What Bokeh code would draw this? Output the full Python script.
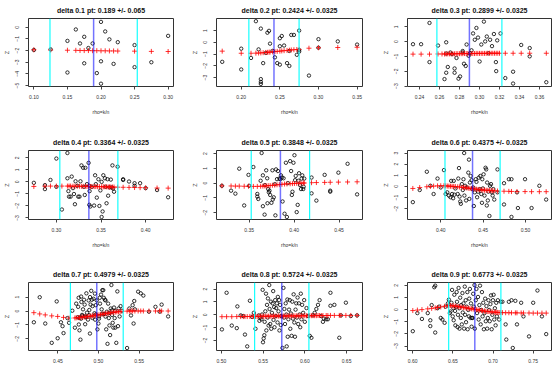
from bokeh.plotting import figure
from bokeh.models import Span, FixedTicker, NumeralTickFormatter, Range1d
from bokeh.layouts import column, row
from bokeh.embed import file_html
from bokeh.resources import INLINE

# ---------------- data ----------------
titles = ["delta 0.1 pt: 0.189 +/- 0.065", "delta 0.2 pt: 0.2424 +/- 0.0325",
          "delta 0.3 pt: 0.2899 +/- 0.0325", "delta 0.4 pt: 0.3364 +/- 0.0325",
          "delta 0.5 pt: 0.3848 +/- 0.0325", "delta 0.6 pt: 0.4375 +/- 0.0325",
          "delta 0.7 pt: 0.4979 +/- 0.0325", "delta 0.8 pt: 0.5724 +/- 0.0325",
          "delta 0.9 pt: 0.6773 +/- 0.0325"]
pts = [0.189, 0.2424, 0.2899, 0.3364, 0.3848, 0.4375, 0.4979, 0.5724, 0.6773]
halfs = [0.065, 0.0325, 0.0325, 0.0325, 0.0325, 0.0325, 0.0325, 0.0325, 0.0325]

x_ticks = [[0.10, 0.15, 0.20, 0.25, 0.30], [0.20, 0.25, 0.30, 0.35],
           [0.24, 0.26, 0.28, 0.30, 0.32, 0.34, 0.36], [0.30, 0.35, 0.40],
           [0.35, 0.40, 0.45], [0.40, 0.45, 0.50], [0.45, 0.50, 0.55],
           [0.50, 0.55, 0.60, 0.65], [0.60, 0.65, 0.70, 0.75]]
z_ticks = [[0, -1, -2, -3, -4, -5], [1, 0, -1, -2, -3], [1, 0, -1, -2, -3],
           [2, 1, 0, -1, -2, -3], [2, 1, 0, -1, -2], [3, 2, 1, 0, -1, -2],
           [1, 0, -1, -2], [2, 1, 0, -1, -2], [2, 1, 0, -1, -2, -3]]
x_lims = [(0.092, 0.308), (0.168, 0.357), (0.228, 0.372), (0.2688, 0.4312),
          (0.3137, 0.4761), (0.3608, 0.5306), (0.4139, 0.5923), (0.4942, 0.6691),
          (0.5935, 0.7728)]
z_lims = [(-5.08, 0.75), (-3.76, 2.03), (-3.03, 1.57), (-3.13, 2.61), (-2.46, 2.21),
          (-2.97, 3.23), (-2.84, 2.05), (-2.78, 2.51), (-3.37, 2.23)]

# panel 1
x1 = [0.10, 0.125, 0.15, 0.15, 0.1625, 0.16875, 0.175, 0.175, 0.18125, 0.1875,
      0.19375, 0.2, 0.2, 0.2, 0.20625, 0.2125, 0.21875, 0.225, 0.25, 0.25,
      0.275, 0.30]
z1 = [-1.95, -1.9, -1.17, -3.88, -0.19, -1.39, -0.82, -3.09, -1.78, -1.39,
      -3.93, 0.46, -2.92, -4.84, -0.36, -1.04, -3.14, -1.28, -1.53, -3.42,
      -3.0, -0.74]
cx1 = [0.10, 0.125, 0.15, 0.1625, 0.16875, 0.175, 0.18125, 0.1875, 0.19375, 0.2,
       0.20625, 0.2125, 0.21875, 0.225, 0.25, 0.275, 0.30]
cz1 = [-1.93, -1.95, -1.97, -1.98, -1.99, -2.0, -2.0, -2.01, -2.01, -2.02,
       -2.02, -2.03, -2.03, -2.04, -2.05, -2.07, -2.08]

# panel 2
x2 = [0.1754, 0.20, 0.20, 0.2127, 0.219, 0.2225, 0.2254, 0.2254, 0.2254, 0.2254,
      0.2284, 0.2318, 0.2339, 0.236, 0.2373, 0.2407, 0.2436, 0.2466, 0.25, 0.25,
      0.25, 0.2525, 0.2555, 0.2593, 0.2623, 0.2623, 0.2648, 0.2682, 0.272, 0.275,
      0.275, 0.275, 0.2877, 0.30, 0.30, 0.325, 0.35]
z2 = [-1.66, -0.54, -2.31, -1.33, 1.80, -0.60, 1.17, -3.13, -3.37, -3.54,
      -1.77, -0.90, 0.82, 0.98, -0.11, -0.73, -1.28, -1.77, -0.33, -1.90,
      0.35, 0.54, -0.27, -1.77, -2.01, -0.73, 0.63, 0.63, -1.06, 1.00,
      -0.65, -0.79, -2.83, 0.27, -0.46, 0.08, -0.19]
cx2 = [0.1754, 0.20, 0.2127, 0.219, 0.2225, 0.2254, 0.2284, 0.2318, 0.2339, 0.236,
       0.2373, 0.2407, 0.2436, 0.2466, 0.25, 0.2525, 0.2555, 0.2593, 0.2623, 0.2648,
       0.2682, 0.272, 0.275, 0.2877, 0.30, 0.325, 0.35]
cz2 = [-0.75, -0.93, -0.93, -0.92, -0.91, -0.9, -0.88, -0.86, -0.85, -0.84,
       -0.83, -0.81, -0.79, -0.77, -0.75, -0.73, -0.71, -0.69, -0.67, -0.65,
       -0.63, -0.61, -0.6, -0.5, -0.46, -0.44, -0.42]

# panel 3
x3 = [0.2335, 0.2416, 0.250, 0.250, 0.2585, 0.2667, 0.2667, 0.2667, 0.265, 0.2683,
      0.2709, 0.2725, 0.2751, 0.2751, 0.277, 0.279, 0.2806, 0.2832, 0.2832, 0.2845,
      0.2862, 0.2871, 0.2891, 0.2904, 0.292, 0.2936, 0.2953, 0.2969, 0.2985, 0.3001,
      0.3018, 0.3044, 0.3057, 0.3073, 0.309, 0.3106, 0.3125, 0.3144, 0.3164, 0.3167,
      0.3177, 0.321, 0.3258, 0.3336, 0.3336, 0.3417, 0.3502, 0.3502, 0.3668]
z3 = [-0.17, -0.17, 1.27, -1.38, -0.26, -0.04, -0.80, -2.10, -2.53, -1.71,
      -0.73, -0.84, -1.81, -2.10, -1.10, -2.50, -2.35, -0.63, -0.73, -1.49,
      -1.64, -0.19, -0.95, -0.78, -0.58, 0.56, 0.13, 0.93, 0.28, -1.34,
      -0.19, 1.36, 0.02, 0.35, -0.78, 0.13, -0.30, 0.52, -1.38, -1.99,
      0.09, 0.56, -2.46, -2.03, -2.83, -0.22, -0.43, -0.99, -2.74]
cx3 = [0.2335, 0.2416, 0.250, 0.2585, 0.2625, 0.265, 0.2667, 0.2683, 0.270, 0.2717,
       0.2733, 0.275, 0.2767, 0.2783, 0.280, 0.2817, 0.2833, 0.285, 0.2867, 0.2883,
       0.290, 0.2917, 0.2933, 0.295, 0.2967, 0.2983, 0.300, 0.3017, 0.3033, 0.305,
       0.3067, 0.3083, 0.310, 0.3117, 0.3133, 0.315, 0.3167, 0.3183, 0.320, 0.3258,
       0.3336, 0.3417, 0.3502, 0.3668]
cz3 = [-0.84, -0.84, -0.84, -0.83, -0.83, -0.83, -0.83, -0.82, -0.82, -0.82,
       -0.82, -0.82, -0.81, -0.81, -0.81, -0.81, -0.81, -0.80, -0.80, -0.80,
       -0.80, -0.80, -0.80, -0.80, -0.79, -0.79, -0.79, -0.79, -0.79, -0.79,
       -0.79, -0.78, -0.78, -0.78, -0.78, -0.78, -0.78, -0.78, -0.78, -0.78,
       -0.78, -0.78, -0.78, -0.78]

# panel 4
x4 = [0.2748, 0.2872, 0.2872, 0.2934, 0.30, 0.30, 0.3062, 0.3124, 0.3124, 0.3135,
      0.3142, 0.316, 0.3172, 0.3186, 0.3197, 0.3208, 0.3215, 0.3234, 0.3245, 0.3259,
      0.327, 0.3281, 0.33, 0.3307, 0.3318, 0.3325, 0.3343, 0.3361, 0.3369, 0.3369,
      0.338, 0.3372, 0.3398, 0.3423, 0.3434, 0.3442, 0.3453, 0.3471, 0.3482, 0.3493,
      0.3507, 0.3518, 0.3507, 0.3526, 0.3544, 0.3551, 0.3562, 0.3573, 0.358, 0.3595,
      0.361, 0.3621, 0.3628, 0.3635, 0.3646, 0.3686, 0.3748, 0.3748, 0.3814, 0.3876,
      0.3876, 0.3938, 0.40, 0.4128, 0.4252]
z4 = [-0.08, -0.27, -0.6, 0.16, 1.94, -0.41, -2.30, 2.40, 0.30, -0.77,
      -1.23, -1.23, 0.44, -0.52, -1.01, -1.86, 0.05, -0.33, -1.23, -1.23,
      0.05, 1.37, 1.17, -0.41, -1.09, 1.17, -0.19, 1.58, -0.33, -1.91,
      -2.05, -0.77, -0.41, -1.97, 0.55, -0.19, -1.31, 0.22, -2.0, -0.71,
      0.0, -2.46, -2.92, 0.55, 0.30, -0.41, -1.78, 0.22, -1.15, -0.46,
      0.19, -0.46, 1.37, -0.55, -0.82, 1.26, 0.22, 0.16, 0.03, -0.11,
      -0.33, -0.11, -0.52, -0.68, -1.28]
cx4 = [0.2748, 0.2872, 0.2934, 0.30, 0.3062, 0.3124, 0.3142, 0.316, 0.3186, 0.3208,
       0.3234, 0.3259, 0.328, 0.33, 0.3325, 0.3343, 0.3361, 0.338, 0.3398, 0.3423,
       0.3442, 0.3462, 0.3482, 0.3507, 0.3526, 0.3544, 0.3562, 0.358, 0.3595, 0.361,
       0.3628, 0.3646, 0.3686, 0.3748, 0.3814, 0.3876, 0.3938, 0.40, 0.4128, 0.4252]
cz4 = [-0.38, -0.36, -0.35, -0.35, -0.35, -0.35, -0.35, -0.35, -0.36, -0.36,
       -0.36, -0.36, -0.37, -0.37, -0.37, -0.38, -0.38, -0.38, -0.39, -0.39,
       -0.39, -0.4, -0.4, -0.4, -0.41, -0.41, -0.41, -0.42, -0.42, -0.42,
       -0.43, -0.43, -0.44, -0.45, -0.46, -0.47, -0.48, -0.49, -0.51, -0.52]

# panel 5
x5 = [0.3197, 0.3299, 0.3347, 0.339, 0.3445, 0.3493, 0.35, 0.3547, 0.3591, 0.3591,
      0.3602, 0.3628, 0.3639, 0.3653, 0.3653, 0.3672, 0.3675, 0.369, 0.3701, 0.3704,
      0.3712, 0.3719, 0.3726, 0.3734, 0.3748, 0.3759, 0.3763, 0.3774, 0.3785, 0.3792,
      0.3799, 0.381, 0.3821, 0.3836, 0.3847, 0.3854, 0.3865, 0.3872, 0.3883, 0.3894,
      0.3909, 0.392, 0.3931, 0.3956, 0.3967, 0.3975, 0.3982, 0.3993, 0.4004, 0.4011,
      0.4018, 0.4029, 0.404, 0.4048, 0.4055, 0.4066, 0.4077, 0.4084, 0.4091, 0.4102,
      0.4106, 0.4113, 0.4194, 0.4194, 0.4248, 0.434, 0.4402, 0.4402, 0.4493, 0.4595,
      0.4701]
z5 = [-0.18, -0.51, -0.71, 0.98, -1.51, 0.56, -0.18, 1.09, -0.73, -0.91,
      -1.07, 0.16, 2.04, 0.53, -1.56, -2.13, -0.13, 0.87, 0.33, -1.36,
      -0.4, -0.62, -0.51, -0.8, -1.33, 0.87, -1.11, -0.96, -0.07, -2.18,
      0.93, 0.27, 0.82, 0.31, 0.27, 0.53, 0.38, -1.24, 0.33, -2.07,
      1.38, -2.29, 0.0, 1.49, 0.82, -0.8, -0.58, 1.38, 1.89, 0.2,
      0.49, -1.96, -1.47, 0.16, 0.67, -0.13, -0.4, 0.31, 0.53, -0.4,
      -0.24, 0.31, 0.38, -0.69, -1.18, 0.56, -0.51, -0.58, 0.71, 1.31,
      -0.76]
cx5 = [0.3197, 0.3299, 0.3347, 0.339, 0.3445, 0.3493, 0.3547, 0.3591, 0.3628, 0.3653,
       0.3675, 0.369, 0.3712, 0.3734, 0.3759, 0.3785, 0.381, 0.3836, 0.3865, 0.3894,
       0.392, 0.3956, 0.3982, 0.4004, 0.4029, 0.4055, 0.4077, 0.4102, 0.4113, 0.4194,
       0.4248, 0.434, 0.4402, 0.4493, 0.4595, 0.4701]
cz5 = [-0.18, -0.19, -0.2, -0.2, -0.21, -0.21, -0.22, -0.22, -0.21, -0.2,
       -0.19, -0.18, -0.17, -0.16, -0.14, -0.13, -0.11, -0.1, -0.08, -0.06,
       -0.05, -0.04, -0.03, -0.02, -0.01, 0.0, 0.0, 0.01, 0.01, 0.03,
       0.04, 0.05, 0.06, 0.07, 0.08, 0.09]

# panel 6
x6 = [0.3671, 0.3752, 0.3836, 0.3878, 0.3916, 0.3962, 0.40, 0.4038, 0.4058, 0.4077,
      0.4096, 0.4115, 0.4123, 0.4134, 0.4146, 0.4153, 0.4161, 0.4172, 0.42, 0.4207,
      0.4215, 0.4222, 0.423, 0.4237, 0.4249, 0.426, 0.4268, 0.4276, 0.4279, 0.4287,
      0.4299, 0.4306, 0.4325, 0.4333, 0.4337, 0.4344, 0.4352, 0.4364, 0.4371, 0.4383,
      0.439, 0.4402, 0.4413, 0.4421, 0.4429, 0.444, 0.4448, 0.4459, 0.4467, 0.4478,
      0.4486, 0.449, 0.4497, 0.4505, 0.4516, 0.4528, 0.4536, 0.4543, 0.4547, 0.4555,
      0.4562, 0.4574, 0.4581, 0.4593, 0.4604, 0.4612, 0.462, 0.4631, 0.4669, 0.4669,
      0.4746, 0.4746, 0.4803, 0.4834, 0.4834, 0.4899, 0.491, 0.4994, 0.5071, 0.5163,
      0.5243]
z6 = [-1.41, -0.32, 1.32, 0.06, -0.68, 0.71, -0.09, 1.47, -0.68, -0.53,
      -0.82, -0.97, 0.5, -0.68, -1.06, 0.5, -0.74, -0.18, -0.68, 0.71,
      1.65, -0.91, -1.35, -1.56, 0.21, -0.32, 0.65, 3.0, -0.82, 0.06,
      -1.26, -0.09, 1.24, 2.41, -1.12, 0.35, 0.94, 0.56, -0.24, -0.09,
      -1.76, -0.53, 0.65, 0.41, -0.97, -0.47, 0.79, -0.24, 0.94, -0.68,
      -1.47, 0.65, -0.18, 1.09, -0.82, 1.68, 1.53, -1.71, 0.35, -1.26,
      -0.47, -2.65, 0.06, 0.21, -0.53, -0.82, -0.24, -1.18, 1.53, -0.53,
      -1.62, 0.29, 0.65, 0.65, -2.74, -0.53, -1.94, 0.65, -1.94, 0.06,
      -1.18]
cx6 = [0.3671, 0.3752, 0.3836, 0.3878, 0.3916, 0.3962, 0.40, 0.4038, 0.4058, 0.4077,
       0.4096, 0.4115, 0.4134, 0.4153, 0.4172, 0.42, 0.4222, 0.4249, 0.4268, 0.4287,
       0.4306, 0.4325, 0.4344, 0.4364, 0.4383, 0.4402, 0.4421, 0.444, 0.4459, 0.4478,
       0.4497, 0.4516, 0.4536, 0.4555, 0.4574, 0.4593, 0.4612, 0.4631, 0.4669, 0.4746,
       0.4803, 0.4834, 0.4899, 0.4994, 0.5071, 0.5163, 0.5243]
cz6 = [-0.18, -0.1, -0.03, 0.0, 0.03, 0.05, 0.06, 0.06, 0.05, 0.04,
       0.03, 0.02, 0.01, 0.0, -0.01, -0.03, -0.05, -0.07, -0.09, -0.11,
       -0.13, -0.15, -0.17, -0.19, -0.21, -0.23, -0.25, -0.27, -0.29, -0.31,
       -0.32, -0.33, -0.34, -0.35, -0.36, -0.37, -0.38, -0.39, -0.41, -0.43,
       -0.44, -0.45, -0.46, -0.46, -0.47, -0.47, -0.47]

# panel 7
x7 = [0.4205, 0.4277, 0.4345, 0.4425, 0.4486, 0.4498, 0.4538, 0.4558, 0.457, 0.4618,
      0.4638, 0.4678, 0.471, 0.4726, 0.475, 0.4758, 0.4766, 0.4778, 0.4786, 0.479,
      0.4798, 0.481, 0.4822, 0.483, 0.4838, 0.4851, 0.4859, 0.4871, 0.4879, 0.4887,
      0.4895, 0.4903, 0.4911, 0.4919, 0.4927, 0.4939, 0.4951, 0.4959, 0.4967, 0.4979,
      0.4987, 0.4999, 0.5007, 0.5019, 0.5031, 0.5039, 0.5047, 0.5059, 0.5067, 0.5079,
      0.5087, 0.5095, 0.5103, 0.5111, 0.5119, 0.5127, 0.5135, 0.5143, 0.5151, 0.5159,
      0.5167, 0.5175, 0.5183, 0.5191, 0.5199, 0.5207, 0.5219, 0.5232, 0.524, 0.5248,
      0.526, 0.5272, 0.5288, 0.5352, 0.538, 0.54, 0.542, 0.5432, 0.544, 0.5448,
      0.5488, 0.552, 0.5552, 0.5621, 0.5701, 0.5753, 0.5777, 0.5857,
      0.4746, 0.4766, 0.4786, 0.4806, 0.4846, 0.4886, 0.4926, 0.4966, 0.5006, 0.5046,
      0.5086, 0.5126, 0.5166, 0.5206, 0.4756, 0.4896, 0.5016, 0.4956, 0.5066, 0.4836]
z7 = [-0.81, 0.99, -0.9, -2.29, 0.69, -1.96, -0.81, -1.09, -1.59, -0.51,
      -0.85, 0.02, -1.2, 0.53, 0.3, -0.97, -1.39, -2.06, 1.04, 0.65,
      -0.28, 0.12, 0.81, 0.46, -0.39, 1.27, -0.12, -0.62, 0.76, 0.07,
      -1.62, 0.46, 1.45, 0.81, 0.35, 0.88, -0.16, -0.62, 0.42, 0.76,
      -1.32, -0.9, -0.39, 0.53, 1.18, 0.12, 1.5, 1.5, -0.21, 0.81,
      0.76, -1.32, -0.05, -2.36, 0.53, -0.51, -1.04, -1.73, 0.18, 1.87,
      -0.28, -0.85, -1.2, 0.25, -0.51, -1.2, -2.29, 1.41, -1.09, 0.18,
      -0.39, 0.35, 0.02, -2.66, 0.18, -0.32, 0.42, -0.9, 0.72, 0.12,
      1.39, 1.27, 1.11, -0.05, 0.3, -0.05, 0.46, -0.39,
      -0.45, -0.5, -0.55, -0.35, -0.45, -0.3, -0.5, -0.25, -0.55, -0.2,
      -0.4, -0.15, 0.05, 0.0, 0.95, 1.0, 0.95, 1.25, 0.95, -0.95]
cx7 = [0.4205, 0.4277, 0.4345, 0.4425, 0.4498, 0.457, 0.4638, 0.471, 0.4726, 0.475,
       0.4766, 0.4786, 0.4806, 0.4826, 0.4846, 0.4866, 0.4886, 0.4906, 0.4926, 0.4946,
       0.4966, 0.4986, 0.5006, 0.5026, 0.5046, 0.5066, 0.5086, 0.5106, 0.5126, 0.5146,
       0.5166, 0.5186, 0.5206, 0.5226, 0.5246, 0.5266, 0.5288, 0.5352, 0.538, 0.54,
       0.542, 0.5448, 0.5488, 0.552, 0.5552, 0.5621, 0.5701, 0.5753, 0.5777, 0.5857]
cz7 = [-0.12, -0.21, -0.28, -0.35, -0.39, -0.46, -0.51, -0.5, -0.49, -0.48,
       -0.47, -0.46, -0.44, -0.43, -0.41, -0.4, -0.38, -0.37, -0.35, -0.33,
       -0.31, -0.29, -0.27, -0.25, -0.23, -0.21, -0.19, -0.17, -0.15, -0.13,
       -0.11, -0.09, -0.08, -0.06, -0.05, -0.04, -0.03, -0.01, 0.0, 0.0,
       0.0, 0.0, 0.0, 0.0, 0.0, 0.0, 0.0, 0.0, 0.0, 0.0]

# panel 8
x8 = [0.5007, 0.5063, 0.5125, 0.5185, 0.5192, 0.5232, 0.5263, 0.5283, 0.531, 0.5342,
      0.5369, 0.5389, 0.5409, 0.5448, 0.5456, 0.5468, 0.548, 0.5488, 0.5495, 0.5499,
      0.5507, 0.5515, 0.5519, 0.5527, 0.5535, 0.5539, 0.5547, 0.5555, 0.5558, 0.5566,
      0.5574, 0.5578, 0.5586, 0.5594, 0.5598, 0.5606, 0.5614, 0.5621, 0.5625, 0.5633,
      0.5637, 0.5645, 0.5653, 0.5657, 0.5665, 0.5673, 0.5677, 0.5685, 0.5692, 0.5696,
      0.5704, 0.5712, 0.5716, 0.5732, 0.5744, 0.5752, 0.5755, 0.5763, 0.5771, 0.5779,
      0.5783, 0.5791, 0.5795, 0.5803, 0.5811, 0.5819, 0.5826, 0.5834, 0.5842, 0.585,
      0.5858, 0.5866, 0.5874, 0.5882, 0.5889, 0.5897, 0.5905, 0.5913, 0.5921, 0.5929,
      0.5937, 0.5945, 0.5952, 0.596, 0.5968, 0.598, 0.5992, 0.60, 0.602, 0.6039,
      0.6059, 0.6079, 0.6098, 0.6118, 0.6138, 0.6158, 0.6177, 0.6197, 0.6217, 0.6228,
      0.6256, 0.6276, 0.6307, 0.6307, 0.6354, 0.6413, 0.6433, 0.6492, 0.6551, 0.6626]
z8 = [-1.14, 1.71, -0.84, -1.04, 0.65, -0.05, -0.1, -1.54, -2.46, 1.09,
      -0.17, 0.15, -1.09, -0.05, -0.47, -0.22, -0.35, 0.02, 1.94, -2.14,
      -1.84, -1.59, -0.55, 0.27, 1.64, -1.22, 0.77, -0.22, 1.27, -0.84,
      2.31, 0.45, -0.72, 1.02, -1.09, 0.15, 0.89, 1.84, -0.4, 0.6,
      -0.97, 1.14, -0.1, 0.52, 0.89, -0.6, 1.39, 0.27, 1.14, -1.22,
      0.77, -0.8, -0.1, -2.58, 2.09, -0.22, 0.45, -0.72, 0.89, 0.02,
      -2.46, 1.19, -1.71, -0.35, 0.4, 1.14, -1.09, 0.1, -1.64, 1.02,
      -0.3, 1.59, -0.6, -1.71, 0.4, 0.89, -0.22, 1.34, -0.72, 0.89,
      0.02, -0.97, 1.64, -0.35, 0.77, 0.15, 1.14, -0.55, 0.52, -0.1,
      -1.64, -1.79, -0.05, 0.15, 0.45, 0.77, 1.14, -0.1, -0.55, -0.3,
      -0.35, -0.35, 1.71, 0.7, 0.77, -1.79, -0.05, 0.94, -0.1, -0.05]
cx8 = [0.5007, 0.5063, 0.5125, 0.5185, 0.5232, 0.5263, 0.5283, 0.531, 0.5342, 0.5369,
       0.5389, 0.5409, 0.5429, 0.5448, 0.5468, 0.5488, 0.5507, 0.5527, 0.5547, 0.5566,
       0.5586, 0.5606, 0.5625, 0.5645, 0.5665, 0.5685, 0.5704, 0.5724, 0.5744, 0.5763,
       0.5783, 0.5803, 0.5822, 0.5842, 0.5862, 0.5882, 0.5901, 0.5921, 0.5941, 0.596,
       0.598, 0.60, 0.602, 0.6039, 0.6059, 0.6079, 0.6098, 0.6118, 0.6138, 0.6158,
       0.6177, 0.6197, 0.6217, 0.6256, 0.6276, 0.6307, 0.6354, 0.6413, 0.6433, 0.6492,
       0.6551, 0.6626]
cz8 = [-0.15, -0.15, -0.15, -0.14, -0.14, -0.14, -0.14, -0.14, -0.13, -0.13,
       -0.13, -0.13, -0.13, -0.12, -0.12, -0.12, -0.12, -0.12, -0.11, -0.11,
       -0.11, -0.11, -0.11, -0.1, -0.1, -0.1, -0.1, -0.1, -0.1, -0.1,
       -0.1, -0.09, -0.09, -0.09, -0.09, -0.09, -0.09, -0.08, -0.08, -0.08,
       -0.08, -0.08, -0.08, -0.07, -0.07, -0.07, -0.07, -0.07, -0.07, -0.06,
       -0.06, -0.06, -0.06, -0.06, -0.06, -0.05, -0.05, -0.05, -0.05, -0.05,
       -0.05, -0.05]

# panel 9
x9 = [0.6001, 0.6058, 0.6115, 0.6187, 0.6219, 0.6219, 0.6236, 0.6268, 0.628, 0.628,
      0.6308, 0.6329, 0.6349, 0.6369, 0.6397, 0.6409, 0.6438, 0.645, 0.6462, 0.647,
      0.6482, 0.649, 0.6498, 0.6506, 0.651, 0.6518, 0.6527, 0.6531, 0.6539, 0.6547,
      0.6551, 0.6559, 0.6563, 0.6571, 0.6579, 0.6583, 0.6591, 0.6599, 0.6603, 0.6611,
      0.6619, 0.6623, 0.6632, 0.664, 0.6648, 0.6652, 0.666, 0.6664, 0.6672, 0.668,
      0.6684, 0.6692, 0.67, 0.6704, 0.6712, 0.672, 0.6725, 0.6733, 0.6737, 0.6745,
      0.6753, 0.6761, 0.6769, 0.6773, 0.6785, 0.6793, 0.6801, 0.6813, 0.6821, 0.683,
      0.6838, 0.6846, 0.6854, 0.6862, 0.687, 0.6878, 0.6886, 0.6894, 0.6902, 0.691,
      0.6918, 0.6927, 0.6935, 0.6943, 0.6951, 0.6959, 0.6967, 0.6975, 0.6983, 0.6991,
      0.6999, 0.7007, 0.7015, 0.7023, 0.7032, 0.704, 0.7048, 0.706, 0.7076, 0.7096,
      0.7117, 0.7157, 0.7165, 0.7197, 0.723, 0.7246, 0.7278, 0.7298, 0.735, 0.7379,
      0.7448, 0.75, 0.7553, 0.7609, 0.7662]
z9 = [-1.78, -0.29, -0.77, -0.29, -0.88, -1.36, 0.37, 1.84, 1.97, -1.89,
      0.11, 0.24, -0.69, -0.82, -1.09, 0.24, 0.51, 0.82, -0.29, -0.16,
      0.56, 1.62, -0.56, 0.11, -0.88, 1.22, -0.11, -1.3, 0.24, 1.44,
      0.64, -1.44, -0.43, 1.78, 0.11, -1.57, 0.98, -0.69, 0.37, -1.22,
      1.36, -0.24, 0.51, -1.57, 1.89, -0.43, 0.77, -1.04, 0.24, 1.44,
      -1.62, -0.03, -0.56, 0.9, 1.7, -0.69, 0.51, -1.41, -0.69, -0.69,
      1.3, 0.24, 2.02, -1.57, 0.77, 1.7, -0.29, 1.04, -0.82, 0.37,
      1.97, -1.22, -0.03, 1.44, -0.56, 0.56, -1.62, -0.29, 0.9, -0.96,
      0.29, -1.57, -0.69, 0.77, -0.03, -0.96, 0.45, 1.17, -1.62, -0.43,
      0.77, 1.22, -0.82, 0.11, -1.3, 0.56, -0.56, 0.77, -0.82, 0.64,
      0.64, -1.22, -2.47, 0.64, 0.77, -3.16, 0.72, -1.22, 0.56, -0.56,
      -2.21, 0.56, 1.57, -0.56, -2.02]
cx9 = [0.6001, 0.6058, 0.6115, 0.6187, 0.6236, 0.628, 0.6308, 0.6349, 0.6397, 0.6438,
       0.645, 0.647, 0.649, 0.651, 0.6531, 0.6551, 0.6571, 0.6591, 0.6611, 0.6632,
       0.6652, 0.6672, 0.6692, 0.6712, 0.6733, 0.6753, 0.6773, 0.6793, 0.6813, 0.683,
       0.6854, 0.687, 0.6894, 0.691, 0.6935, 0.6951, 0.6975, 0.6991, 0.7015, 0.7032,
       0.7048, 0.706, 0.7076, 0.7096, 0.7117, 0.7157, 0.7197, 0.723, 0.7278, 0.7298,
       0.735, 0.7379, 0.7448, 0.75, 0.7553, 0.7609, 0.7662]
cz9 = [-0.08, -0.04, 0.0, 0.06, 0.1, 0.14, 0.17, 0.22, 0.27, 0.32,
       0.34, 0.33, 0.31, 0.3, 0.28, 0.26, 0.24, 0.22, 0.2, 0.18,
       0.15, 0.13, 0.11, 0.08, 0.06, 0.04, 0.02, -0.01, -0.03, -0.05,
       -0.08, -0.1, -0.12, -0.14, -0.16, -0.17, -0.19, -0.2, -0.21, -0.22,
       -0.23, -0.24, -0.24, -0.25, -0.25, -0.26, -0.26, -0.27, -0.27, -0.27,
       -0.28, -0.28, -0.28, -0.29, -0.29, -0.29, -0.29]

xs = [x1, x2, x3, x4, x5, x6, x7, x8, x9]
zs = [z1, z2, z3, z4, z5, z6, z7, z8, z9]
cxs = [cx1, cx2, cx3, cx4, cx5, cx6, cx7, cx8, cx9]
czs = [cz1, cz2, cz3, cz4, cz5, cz6, cz7, cz8, cz9]

# ---------------- layout / style ----------------
FONT = "Liberation Sans"
col_w = [188, 191, 174]
left_b = [25, 28, 25]
right_b = [15, 17, 2]
row_h = [132, 132, 107]
top_b = [16, 16, 16]
bot_b = [46, 45, 21]

rows = []
for r in range(3):
    figs = []
    for c in range(3):
        i = 3 * r + c
        p = figure(width=col_w[c], height=row_h[r], output_backend="svg",
                   toolbar_location=None, title=titles[i],
                   x_range=Range1d(*x_lims[i]), y_range=Range1d(*z_lims[i]),
                   min_border_left=left_b[c], min_border_right=right_b[c],
                   min_border_top=top_b[r], min_border_bottom=bot_b[r])
        p.title.text_font = FONT
        p.title.text_font_size = "7px"
        p.title.text_font_style = "bold"
        p.title.align = "center"
        p.title.standoff = 9
        p.title.text_color = "#111111"
        p.xgrid.visible = False
        p.ygrid.visible = False
        p.outline_line_color = "#333333"
        p.outline_line_width = 1
        p.background_fill_color = "white"
        p.border_fill_color = "white"

        for ax in (p.xaxis[0], p.yaxis[0]):
            ax.axis_line_color = None
            ax.major_tick_in = 0
            ax.major_tick_out = 3
            ax.major_tick_line_color = "#444444"
            ax.minor_tick_line_color = None
            ax.major_label_text_font = FONT
            ax.major_label_text_font_size = "5px"
            ax.major_label_text_color = "#333333"
            ax.axis_label_text_font = FONT
            ax.axis_label_text_font_style = "normal"
            ax.axis_label_text_color = "#333333"
        p.xaxis.ticker = FixedTicker(ticks=x_ticks[i])
        p.xaxis.formatter = NumeralTickFormatter(format="0.00")
        p.xaxis.major_label_standoff = 5
        p.yaxis.ticker = FixedTicker(ticks=z_ticks[i])
        p.yaxis.major_label_orientation = "vertical"
        p.yaxis.major_label_standoff = 6
        p.yaxis.axis_label = "Z"
        p.yaxis.axis_label_text_font_size = "5.5px"
        p.yaxis.axis_label_standoff = 3
        if r < 2:
            p.xaxis.axis_label = "rho=k/n"
            p.xaxis.axis_label_text_font_size = "5px"
            p.xaxis.axis_label_standoff = 7

        p.scatter(xs[i], zs[i], marker="circle", size=3.4, fill_color=None,
                  line_color="black", line_width=0.8)
        p.scatter(cxs[i], czs[i], marker="cross", size=5, line_color="red",
                  line_width=1, line_alpha=0.8)
        p.add_layout(Span(location=pts[i], dimension="height", line_color="blue",
                          line_alpha=0.55, line_width=1.5))
        p.add_layout(Span(location=pts[i] - halfs[i], dimension="height",
                          line_color="cyan", line_width=1.1))
        p.add_layout(Span(location=pts[i] + halfs[i], dimension="height",
                          line_color="cyan", line_width=1.1))
        figs.append(p)
    rows.append(row(*figs))

layout = column(*rows)
open("out.html", "w").write(file_html(layout, INLINE))
